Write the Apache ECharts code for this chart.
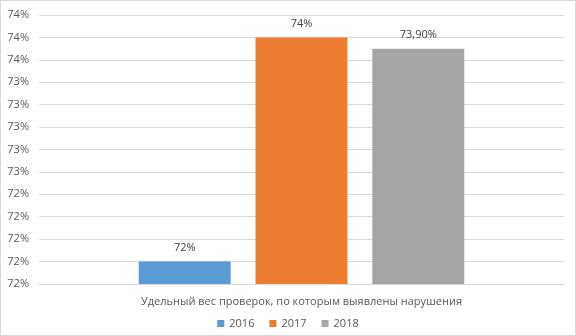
<!DOCTYPE html>
<html>
<head>
<meta charset="utf-8">
<script src="https://cdn.jsdelivr.net/npm/echarts@6/dist/echarts.min.js"></script>
<style>
html, body { margin: 0; padding: 0; background: #fff; }
#chart { width: 574px; height: 334px; border: 1px solid #d9d9d9; }
</style>
</head>
<body>
<div id="chart"></div>
<script>
var categories = ['Удельный вес проверок, по которым выявлены нарушения'];
var years = ['2016', '2017', '2018'];
var values = [71.8, 73.8, 73.7];
var labels = ['72%', '74%', '73,90%'];
var colors = ['#5b9bd5', '#ed7d31', '#a5a5a5'];

var chart = echarts.init(document.getElementById('chart'));

var series = years.map(function (y, i) {
    return {
        name: y,
        type: 'bar',
        barGap: '27%',
        barCategoryGap: '38%',
        itemStyle: { color: colors[i] },
        label: {
            show: true,
            position: 'top',
            distance: 8,
            color: '#404040',
            fontSize: 11,
            fontFamily: 'Open Sans',
            formatter: function () { return labels[i]; }
        },
        data: [values[i]]
    };
});

var option = {
    animation: false,
    textStyle: { fontFamily: 'Open Sans' },
    grid: { left: 38, right: 11, top: 14, bottom: 51, containLabel: false },
    legend: {
        bottom: 1,
        left: 'center',
        itemWidth: 7,
        itemHeight: 7,
        itemGap: 15,
        icon: 'rect',
        textStyle: { color: '#595959', fontSize: 11 },
        data: years
    },
    xAxis: {
        type: 'category',
        data: categories,
        axisLine: { lineStyle: { color: '#d9d9d9' } },
        axisTick: { show: false },
        axisLabel: { color: '#595959', fontSize: 11, margin: 12 }
    },
    yAxis: {
        type: 'value',
        min: 71.6,
        max: 74.0,
        interval: 0.2,
        axisLine: { show: false },
        axisTick: { show: false },
        splitLine: { lineStyle: { color: '#d9d9d9' } },
        axisLabel: {
            color: '#595959',
            fontSize: 11,
            margin: 10,
            formatter: function (v) { return Math.round(v) + '%'; }
        }
    },
    series: series
};
chart.setOption(option);
</script>
</body>
</html>
